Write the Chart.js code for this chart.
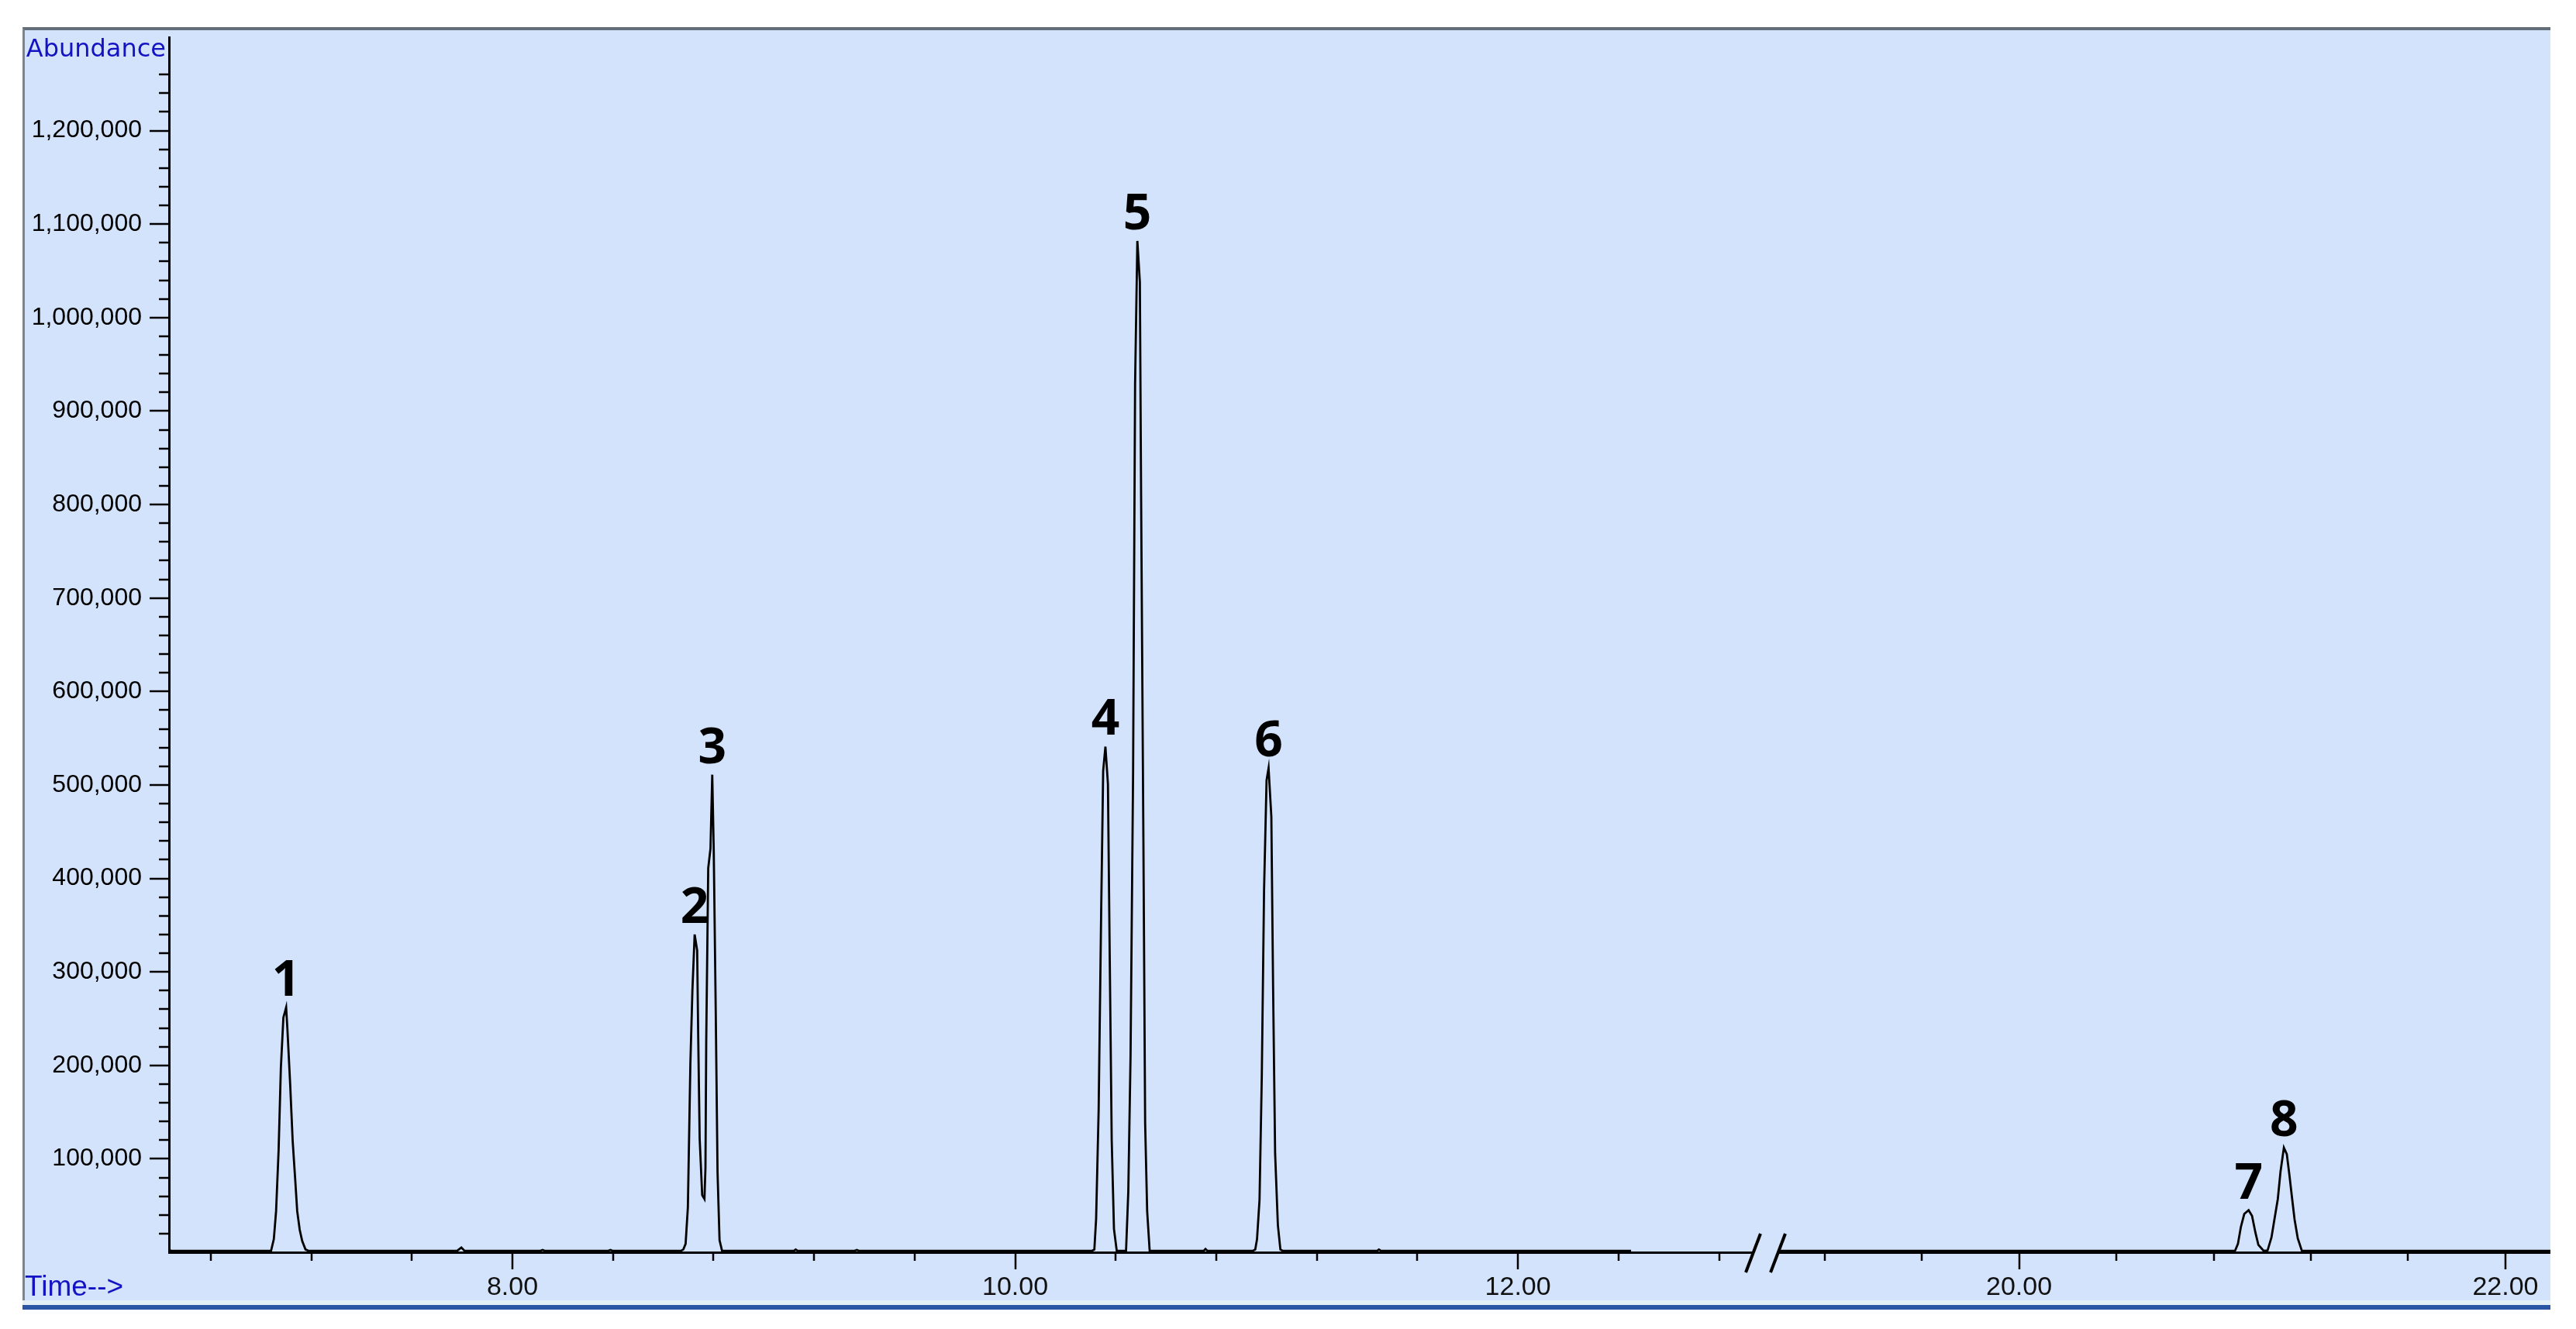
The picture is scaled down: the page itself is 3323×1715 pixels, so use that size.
<!DOCTYPE html>
<html>
<head>
<meta charset="utf-8">
<script src="https://cdn.jsdelivr.net/npm/chart.js@4.4.1/dist/chart.umd.min.js"></script>
<style>
  html, body { margin: 0; padding: 0; background: #fff; }
  body { width: 3323px; height: 1715px; position: relative; overflow: hidden; }
  #panel { position: absolute; left: 29px; top: 35px; width: 3261px; height: 1649px; background: #d3e3fb;
           border-top: 4px solid #636e78; border-left: 3px solid #7b858d; box-sizing: border-box; }
  #band { position: absolute; left: 29px; top: 1678px; width: 3261px; height: 6px; background: #e3eef7; }
  #bar { position: absolute; left: 29px; top: 1684px; width: 3261px; height: 6px; background: #2c54a4; }
  canvas { position: absolute; }
  #left { left: 30px; top: 36px; }
  #right { left: 2230px; top: 36px; }
</style>
</head>
<body>
<div id="panel"></div>
<div id="band"></div>
<div id="bar"></div>
<canvas id="left" width="2232" height="1644"></canvas>
<canvas id="right" width="1060" height="1644"></canvas>
<script>
// ===== TOTAL ION CHROMATOGRAM (broken time axis) =====

// left segment of the trace (min, abundance)
const leftTimes = [
  6.634, 6.640, 7.040, 7.051, 7.060, 7.070, 7.079, 7.089, 7.100, 7.105, 7.116, 7.126, 7.136, 7.144, 7.154, 7.164, 7.177, 7.190,
  7.780, 7.797, 7.810, 8.110, 8.120, 8.130, 8.380, 8.390, 8.400,
  8.670, 8.680, 8.689, 8.698, 8.708, 8.716, 8.725, 8.735, 8.739, 8.745, 8.755, 8.764, 8.768, 8.771, 8.779, 8.788, 8.795,
  8.801, 8.809, 8.816, 8.824, 8.834,
  9.120, 9.127, 9.135, 9.360, 9.370, 9.380,
  10.305, 10.315, 10.322, 10.332, 10.342, 10.350, 10.359, 10.369, 10.376, 10.384, 10.393, 10.404,
  10.441, 10.450, 10.459, 10.469, 10.477, 10.486, 10.496, 10.501, 10.510, 10.517, 10.525, 10.535,
  10.750, 10.757, 10.765,
  10.945, 10.955, 10.962, 10.972, 10.981, 10.990, 11.000, 11.008, 11.019, 11.026, 11.034, 11.045, 11.055, 11.065,
  11.440, 11.447, 11.455, 12.450
];
const leftAbundance = [
  4000, 1500, 1500, 14000, 44000, 109000, 197000, 251000, 262000, 239000, 180000, 119000, 78000, 44000, 24000, 12000, 3000, 1500,
  1500, 5000, 1500, 1500, 2500, 1500, 1500, 2500, 1500,
  1500, 3000, 9000, 48000, 202000, 280000, 340000, 323000, 234000, 121000, 61000, 57000, 91000, 225000, 411000, 432000, 511000,
  429000, 255000, 86000, 13000, 1500,
  1500, 3000, 1500, 1500, 2500, 1500,
  1500, 3000, 36000, 152000, 363000, 515000, 541000, 501000, 319000, 120000, 25000, 1500,
  1500, 65000, 211000, 512000, 929000, 1082000, 1038000, 806000, 443000, 138000, 44000, 1500,
  1500, 3500, 1500,
  1500, 3000, 14000, 56000, 188000, 387000, 505000, 518000, 466000, 283000, 106000, 29000, 3000, 1500,
  1500, 3000, 1500, 1500
];

// right segment of the trace
const rightTimes = [
  19.010, 20.885, 20.889, 20.900, 20.912, 20.926, 20.944, 20.958, 20.972, 20.984, 21.006,
  21.022, 21.038, 21.050, 21.064, 21.075, 21.089, 21.101, 21.112, 21.123, 21.133, 21.146, 21.163, 22.185
];
const rightAbundance = [
  1500, 1500, 2000, 9000, 27000, 41000, 45000, 39000, 21000, 8000, 1500,
  2000, 16000, 35000, 57000, 86000, 112000, 105000, 82000, 57000, 35000, 15000, 1500, 1500
];

// numbered peaks
const peakNumbers = ['1', '2', '3', '4', '5', '6', '7', '8'];
const peakTimes = [7.100, 8.725, 8.795, 10.359, 10.486, 11.008, 20.944, 21.089];
const peakHeights = [262000, 340000, 511000, 541000, 1082000, 518000, 45000, 112000];

// axes
const Y_MAX = 1300000;
const yLabelTicks = [100000, 200000, 300000, 400000, 500000, 600000, 700000, 800000, 900000, 1000000, 1100000, 1200000];
const yMinorStep = 20000, yMinorTop = 1260000;
const xLeftRange = [6.634, 12.937];
const xRightRange = [19.010, 22.185];
const xLeftLabels = [8, 10, 12];
const xRightLabels = [20, 22];
const xLeftTicks = [6.8, 7.2, 7.6, 8.0, 8.4, 8.8, 9.2, 9.6, 10.0, 10.4, 10.8, 11.2, 11.6, 12.0, 12.4, 12.8];
const xRightTicks = [19.2, 19.6, 20.0, 20.4, 20.8, 21.2, 21.6, 22.0];

const BLUE_TEXT = '#1313c4';

function toPoints(xs, ys) { return xs.map((x, i) => ({ x: x, y: ys[i] })); }

function line(ctx, x1, y1, x2, y2) {
  ctx.beginPath(); ctx.moveTo(x1, y1); ctx.lineTo(x2, y2); ctx.stroke();
}

// tick marks (major longer than minor), drawn from the scales
const tickMarks = {
  id: 'tickMarks',
  afterDraw(chart, args, opts) {
    const ctx = chart.ctx, xs = chart.scales.x, ys = chart.scales.y, a = chart.chartArea;
    ctx.save();
    ctx.strokeStyle = '#000';
    ctx.lineWidth = 2.5;
    opts.xTicks.forEach(v => {
      const px = Math.round(xs.getPixelForValue(v));
      const len = opts.xMajor.includes(v) ? 22 : 11;
      line(ctx, px, a.bottom, px, a.bottom + len);
    });
    if (opts.yAxis) {
      for (let v = yMinorStep; v <= yMinorTop; v += yMinorStep) {
        const py = Math.round(ys.getPixelForValue(v));
        const len = v % 100000 === 0 ? 25 : 13;
        line(ctx, a.left, py, a.left - len, py);
      }
      ctx.fillStyle = BLUE_TEXT;
      ctx.font = '32px "DejaVu Sans"';
      ctx.textAlign = 'right';
      ctx.textBaseline = 'alphabetic';
      ctx.fillText('Abundance', a.left - 4, a.top + 25);
      ctx.font = '37px "Liberation Sans"';
      ctx.textAlign = 'left';
      ctx.fillText('Time-->', 2, a.bottom + 56);
    }
    if (opts.breakMarks) {
      ctx.lineWidth = 4;
      line(ctx, a.left - 42, a.bottom + 26, a.left - 23, a.bottom - 24);
      line(ctx, a.left - 10, a.bottom + 26, a.left + 9, a.bottom - 24);
    }
    ctx.restore();
  }
};

// peak numbers above apexes
const peakLabels = {
  id: 'peakLabels',
  afterDatasetsDraw(chart) {
    const ctx = chart.ctx, xs = chart.scales.x, ys = chart.scales.y;
    ctx.save();
    ctx.fillStyle = '#000';
    ctx.font = 'bold 64px "Open Sans"';
    ctx.textAlign = 'center';
    ctx.textBaseline = 'alphabetic';
    peakTimes.forEach((t, i) => {
      if (t < xs.min || t > xs.max) return;
      ctx.fillText(peakNumbers[i], xs.getPixelForValue(t), ys.getPixelForValue(peakHeights[i]) - 15);
    });
    ctx.restore();
  }
};

function makeChart(id, times, values, range, labels, ticks, isLeft) {
  return new Chart(document.getElementById(id), {
    type: 'line',
    data: {
      datasets: [{
        data: toPoints(times, values),
        borderColor: '#000', borderWidth: 2.8, pointRadius: 0, tension: 0, fill: false
      }]
    },
    options: {
      responsive: false, animation: false,
      layout: { padding: { top: 12, left: isLeft ? 0 : 64, right: 0, bottom: 0 } },
      plugins: {
        legend: { display: false }, tooltip: { enabled: false },
        tickMarks: { xTicks: ticks, xMajor: labels, yAxis: isLeft, breakMarks: !isLeft }
      },
      scales: {
        x: {
          type: 'linear', min: range[0], max: range[1],
          afterBuildTicks: s => { s.ticks = labels.map(v => ({ value: v })); },
          afterFit: s => { s.height = 64; s.paddingLeft = 0; s.paddingRight = 0; },
          grid: { display: false, drawTicks: false },
          border: { display: true, color: '#000', width: 3 },
          ticks: {
            padding: 25, maxRotation: 0, autoSkip: false,
            color: '#111', font: { family: 'Liberation Sans', size: 34 },
            callback: v => v.toFixed(2)
          }
        },
        y: {
          display: isLeft, min: 0, max: Y_MAX,
          afterBuildTicks: s => { s.ticks = yLabelTicks.map(v => ({ value: v })); },
          afterFit: s => {
            s.width = isLeft ? 188 : 0;
            s.paddingTop = 0; s.paddingBottom = 0;
          },
          grid: { display: false, drawTicks: false },
          border: { display: true, color: '#000', width: 3 },
          ticks: {
            padding: 35, color: '#000', font: { family: 'Liberation Sans', size: 32 },
            callback: v => v.toLocaleString('en-US')
          }
        }
      }
    },
    plugins: [tickMarks, peakLabels]
  });
}

makeChart('left', leftTimes, leftAbundance, xLeftRange, xLeftLabels, xLeftTicks, true);
makeChart('right', rightTimes, rightAbundance, xRightRange, xRightLabels, xRightTicks, false);
</script>
</body>
</html>
